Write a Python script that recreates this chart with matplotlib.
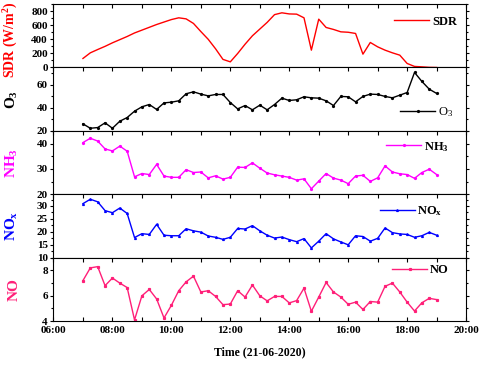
import numpy as np
import matplotlib
matplotlib.use("Agg")
import matplotlib.pyplot as plt
from matplotlib.ticker import MultipleLocator, FuncFormatter

## measurements every 15 min, 07:00 - 19:00 (decimal hours)
hours = [7 + 0.25 * i for i in range(49)]

sdr = [128, 208, 255, 300, 350, 395, 440, 490, 530, 570, 610, 645, 680, 705,
       690, 625, 510, 400, 265, 115, 80, 199, 330, 450, 545, 640, 750, 776,
       760, 757, 705, 246, 686, 568, 540, 506, 500, 483, 189, 355, 293, 246,
       208, 175, 57, 15, 9, 2, 0]

o3 = [26.1, 22.3, 22.9, 27.0, 22.3, 28.4, 31.6, 37.1, 40.9, 42.9, 38.6, 44.3,
      44.9, 46.1, 52.2, 53.9, 51.9, 50.4, 51.6, 51.6, 44.6, 39.1, 42.0, 38.3,
      42.3, 38.3, 42.9, 48.4, 46.4, 47.0, 49.6, 48.7, 48.4, 46.1, 42.0, 49.9,
      49.6, 45.2, 49.9, 51.9, 51.6, 49.9, 48.7, 51.0, 53.3, 70.7, 62.9, 56.2,
      52.5]

nh3 = [40.4, 42.1, 41.0, 37.9, 37.1, 39.0, 37.0, 26.9, 28.2, 27.8, 31.8, 27.2,
       26.7, 26.7, 29.7, 28.6, 28.8, 26.5, 27.3, 26.0, 26.7, 30.7, 30.6, 32.4,
       30.3, 28.4, 27.7, 27.2, 26.7, 25.6, 26.1, 22.2, 25.2, 28.2, 26.4, 25.6,
       24.2, 27.2, 27.5, 25.1, 26.5, 31.2, 28.8, 28.1, 27.8, 26.3, 28.6, 29.9,
       27.8]

nox = [30.9, 32.6, 31.6, 28.2, 27.4, 29.2, 27.1, 17.8, 19.3, 19.0, 22.9, 18.7,
       18.5, 18.5, 21.2, 20.4, 19.9, 18.4, 17.9, 17.1, 17.9, 21.3, 21.1, 22.4,
       20.4, 18.7, 17.6, 18.0, 17.0, 16.2, 17.4, 13.8, 16.4, 19.3, 17.3, 16.1,
       15.0, 18.5, 18.2, 16.4, 17.5, 21.5, 19.7, 19.2, 19.0, 17.9, 18.5, 19.8,
       18.7]

no = [7.2, 8.2, 8.3, 6.8, 7.4, 7.0, 6.65, 4.1, 6.0, 6.5, 5.75, 4.25, 5.25, 6.4,
      7.1, 7.55, 6.3, 6.4, 5.95, 5.3, 5.35, 6.4, 5.9, 6.85, 6.0, 5.6, 5.95, 5.95,
      5.44, 5.62, 6.6, 4.78, 5.9, 7.05, 6.3, 5.9, 5.33, 5.5, 4.92, 5.55, 5.5,
      6.75, 7.0, 6.3, 5.5, 4.8, 5.45, 5.8, 5.7]

plt.rcParams['font.family'] = ['Liberation Serif', 'DejaVu Serif']
plt.rcParams['mathtext.default'] = 'regular'

panels = [
    # data, label, label size, legend, colour, marker, ylim, major, minor, legend pos, legend weight
    (sdr, "SDR (W/m$^2$)", 10, "SDR", "#ff0000", None, (0, 900), 200, 100, (0.99, 0.72), "bold"),
    (o3, "O$_3$", 11, "O$_3$", "#000000", "o", (20, 75), 20, 10, (0.98, 0.30), "normal"),
    (nh3, "NH$_3$", 11, "NH$_3$", "#ff00ff", "o", (20, 45), 10, 5, (0.97, 0.75), "bold"),
    (nox, "NO$_x$", 11, "NO$_x$", "#0000ff", "^", (10, 34.5), 5, 2.5, (0.955, 0.74), "bold"),
    (no, "NO", 11, "NO", "#ff1f78", "s", (4, 9), 2, 1, (0.97, 0.80), "bold"),
]

fig, axes = plt.subplots(5, 1, sharex=True, figsize=(4.84, 3.70), dpi=100)
fig.subplots_adjust(left=0.1105, right=0.963, top=0.989, bottom=0.132, hspace=0)

for ax, (vals, ylab, ls, leg, col, mk, ylim, maj, mnr, lpos, lw) in zip(axes, panels):
    ax.plot(hours, vals, color=col, lw=1.0, marker=mk, ms=1.3, label=leg)
    ax.set_ylim(*ylim)
    ax.yaxis.set_major_locator(MultipleLocator(maj))
    ax.yaxis.set_minor_locator(MultipleLocator(mnr))
    ax.set_ylabel(ylab, color=col, fontsize=ls, fontweight="bold")
    ax.yaxis.set_label_coords(-0.08, 0.5)
    ax.tick_params(axis='y', which='both', direction='out', right=True,
                   labelsize=8, length=2.5, width=0.8, pad=1.5)
    ax.tick_params(axis='y', which='minor', length=1.5)
    for lab in ax.get_yticklabels():
        lab.set_fontweight("bold")
    ax.tick_params(axis='x', which='both', direction='in', top=True, bottom=False,
                   length=3, width=0.8)
    ax.legend(loc='center right', bbox_to_anchor=lpos, frameon=False,
              handlelength=2.8, handletextpad=0.2, borderaxespad=0,
              prop={'size': 9, 'weight': lw})
    for sp in ax.spines.values():
        sp.set_linewidth(0.8)

# SDR label is long, pull it down so it stays inside the figure
axes[0].yaxis.set_label_coords(-0.08, 0.44)

# bottom panel gets the time axis
ax = axes[-1]
ax.set_xlim(6, 20)
ax.xaxis.set_major_locator(MultipleLocator(2))
ax.xaxis.set_minor_locator(MultipleLocator(1))
ax.xaxis.set_major_formatter(FuncFormatter(lambda v, p: "%02d:00" % int(round(v))))
ax.tick_params(axis='x', which='both', bottom=True, labelbottom=True, labelsize=8)
for lab in ax.get_xticklabels():
    lab.set_fontweight("bold")
ax.set_xlabel("Time (21-06-2020)", fontsize=8.5, fontweight="bold", labelpad=8)

fig.savefig("out.png", dpi=100)
